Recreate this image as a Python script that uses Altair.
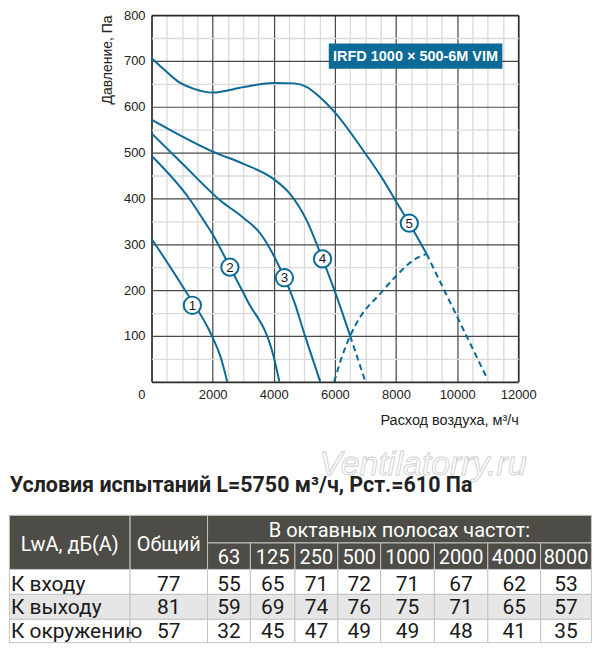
import altair as alt
import pandas as pd

# ---------------- fan curves (x: m3/h, y: Pa) ----------------
c1_x = [0, 1066, 1990, 2261, 2478]
c1_y = [312, 203, 98, 54, 0]
c2_x = [0, 1284, 1718, 1990, 2566, 3130, 4000, 4185]
c2_y = [493, 395, 351, 323, 250, 178, 54, 0]
c3_x = [0, 1022, 2261, 3022, 3566, 4055, 4348, 4651, 5033, 5522]
c3_y = [542, 475, 395, 357, 323, 268, 227, 178, 98, 0]
c4_x = [0, 2044, 3022, 4000, 4544, 5086, 5467, 5597, 5978, 6500]
c4_y = [572, 501, 475, 442, 409, 351, 290, 268, 201, 100]
c5_x = [0, 414, 848, 1392, 2000, 3022, 4000, 4650, 5086, 5522, 5956, 6934, 7586, 7988, 8435, 9000]
c5_y = [706, 681, 656, 639, 631, 643, 652, 651, 643, 620, 591, 504, 440, 395, 346, 279]

# dashed parts
d4_x = [6500, 7000]
d4_y = [100, 0]
d5_x = [9000, 11000]
d5_y = [279, 5]
sys_x = [5978, 6227, 6500, 6826, 7478, 8020, 8564, 9000]
sys_y = [0, 54, 100, 141, 192, 232, 265, 279]

# curve number labels
lab_t = ["1", "2", "3", "4", "5"]
lab_x = [1337, 2566, 4348, 5597, 8435]
lab_y = [167, 250, 227, 268, 346]

model = "IRFD 1000 × 500-6M VIM"
box_x = [5800, 11480]
box_y = [683, 738]

# ---------------- noise table ----------------
test_title = "Условия испытаний L=5750 м³/ч, Рст.=610 Па"
hdr_lwa = "LwA, дБ(A)"
hdr_total = "Общий"
hdr_bands = "В октавных полосах частот:"
bands = ["63", "125", "250", "500", "1000", "2000", "4000", "8000"]
row_names = ["К входу", "К выходу", "К окружению"]
totals = [77, 81, 57]
inlet = [55, 65, 71, 72, 71, 67, 62, 53]
outlet = [59, 69, 74, 76, 75, 71, 65, 57]
surround = [32, 45, 47, 49, 49, 48, 41, 35]

# ---------------- styling / layout ----------------
COL = "#0b6a96"
FONT = "Liberation Sans"
NARROW = "Roboto"
W, H = 368, 368
XMAX, YMAX = 12000, 800
X_STEP, X_MAJOR = 500, 2000
Y_STEP, Y_MAJOR = 50, 100

X = alt.Scale(domain=[0, XMAX], nice=False, zero=False)
Y = alt.Scale(domain=[0, YMAX], nice=False, zero=False)

x_grid_vals = list(range(0, XMAX + 1, X_STEP))
y_grid_vals = list(range(0, YMAX + 1, Y_STEP))

EDGE, MAJ, MIN = "#2a2a2a", "#4a4a4a", "#dadada"

x_axis = alt.Axis(
    values=x_grid_vals, format="d", ticks=False, domain=False,
    grid=True,
    gridColor={"condition": [
        {"test": f"datum.value === 0 || datum.value === {XMAX}", "value": EDGE},
        {"test": f"datum.value % {X_MAJOR} === 0", "value": MAJ}], "value": MIN},
    gridWidth={"condition": [
        {"test": f"datum.value === 0 || datum.value === {XMAX}", "value": 1.7},
        {"test": f"datum.value % {X_MAJOR} === 0", "value": 1.25}], "value": 1.3},
    labelExpr=f"datum.value % {X_MAJOR} === 0 ? datum.label : ''",
    labelFont=FONT, labelFontSize=13, labelColor="#222", labelPadding=7,
    labelFlush=False, labelOverlap=False,
    labelAlign={"condition": {"test": "datum.value === 0", "value": "right"}, "value": "center"},
    labelOffset={"condition": {"test": "datum.value === 0", "value": -6.5}, "value": 0},
    title="Расход воздуха, м³/ч", titleFont=FONT, titleFontSize=14.5,
    titleFontWeight="normal", titleColor="#222", titleAlign="right",
    titleX=W, titleY=43, titleBaseline="alphabetic")
y_axis = alt.Axis(
    values=y_grid_vals, format="d", ticks=False, domain=False,
    grid=True,
    gridColor={"condition": [
        {"test": f"datum.value === 0 || datum.value === {YMAX}", "value": EDGE},
        {"test": f"datum.value % {Y_MAJOR} === 0", "value": MAJ}], "value": MIN},
    gridWidth={"condition": [
        {"test": f"datum.value === 0 || datum.value === {YMAX}", "value": 1.7},
        {"test": f"datum.value % {Y_MAJOR} === 0", "value": 1.25}], "value": 1.3},
    labelExpr=f"datum.value % {Y_MAJOR} === 0 && datum.value > 0 ? datum.label : ''",
    labelFont=FONT, labelFontSize=13, labelColor="#222", labelPadding=6.5,
    labelFlush=False, labelOverlap=False,
    title="Давление, Па", titleFont=FONT, titleFontSize=14,
    titleFontWeight="normal", titleColor="#222", titleAlign="right",
    titleX=-44, titleY=0, titleBaseline="middle")


def xq(f):
    return alt.X(f, type="quantitative", scale=X, axis=x_axis)


def yq(f):
    return alt.Y(f, type="quantitative", scale=Y, axis=y_axis)


def curves_df(parts):
    rows = []
    for name, xs, ys in parts:
        for a, b in zip(xs, ys):
            rows.append({"x": a, "y": b, "c": name})
    return pd.DataFrame(rows)


solid = curves_df([("1", c1_x, c1_y), ("2", c2_x, c2_y), ("3", c3_x, c3_y),
                   ("4", c4_x, c4_y), ("5", c5_x, c5_y)])
dashed = curves_df([("d4", d4_x, d4_y), ("d5", d5_x, d5_y), ("sys", sys_x, sys_y)])

lines = alt.Chart(solid).mark_line(color=COL, strokeWidth=2, interpolate="monotone").encode(
    x=xq("x"), y=yq("y"), detail="c:N")
dlines = alt.Chart(dashed).mark_line(color=COL, strokeWidth=2, strokeDash=[6, 4],
                                     interpolate="monotone").encode(
    x=xq("x"), y=yq("y"), detail="c:N")

labs = pd.DataFrame({"t": lab_t, "x": lab_x, "y": lab_y})
circ = alt.Chart(labs).mark_point(shape="circle", filled=True, fill="white", stroke=COL,
                                  strokeWidth=2, size=300, opacity=1).encode(
    x=xq("x"), y=yq("y"))
ctext = alt.Chart(labs).mark_text(font=FONT, fontSize=13.5, color="#1a1a1a", baseline="middle",
                                  dy=0.5).encode(x=xq("x"), y=yq("y"), text="t:N")

box_df = pd.DataFrame({"x": [box_x[0]], "x1": [box_x[1]], "y": [box_y[0]], "y1": [box_y[1]],
                       "t": [model]})
box = alt.Chart(box_df).mark_rect(color=COL, opacity=1).encode(
    x=xq("x"), x2="x1:Q", y=yq("y"), y2="y1:Q")
box_text = alt.Chart(box_df).transform_calculate(
    x="(datum.x + datum.x1) / 2", y="(datum.y + datum.y1) / 2").mark_text(
    font=FONT, fontSize=14.5, fontWeight="bold", color="white", baseline="middle", dy=0.5).encode(
    x=xq("x"), y=yq("y"), text="t:N")

watermark = alt.Chart(pd.DataFrame({"t": ["Ventilatorry.ru"]})).mark_text(
    font=FONT, fontSize=34, fontStyle="italic", fill="white", stroke="#cfcfcf",
    strokeWidth=0.9, align="left", baseline="alphabetic").encode(
    x=alt.value(168.5), y=alt.value(461.7), text="t:N")
title_txt = alt.Chart(pd.DataFrame({"t": [test_title]})).mark_text(
    font=NARROW, fontSize=21.5, fontWeight="bold", color="#222", align="left",
    baseline="alphabetic").encode(x=alt.value(-142.3), y=alt.value(479), text="t:N")

fan = alt.layer(lines, dlines, circ, ctext, box, box_text,
                watermark, title_txt).properties(width=W, height=H)

# ---------------- table panel ----------------
col_edges = [0, 122, 200.3, 243.6, 288.6, 332, 375.3, 429.6, 483.6, 537, 588.3]
row_edges = [0, 27.7, 54.3, 79.3, 104.3, 127.7]
baselines = {"h1": 21.7, "hm": 36, "h2": 49.3, "r": [76, 99.3, 122.7]}
HDR = "#4d4c47"
ROWFILL = ["#ffffff", "#e6e6e6", "#ffffff"]
TABLE_LEFT = -142.6      # table starts left of the pressure plot's origin
TABLE_W = 584
TH = 128

cells, texts_c, texts_l = [], [], []
cells.append(dict(x0=col_edges[0], x1=col_edges[1], y0=row_edges[0], y1=row_edges[2], f=HDR))
cells.append(dict(x0=col_edges[1], x1=col_edges[2], y0=row_edges[0], y1=row_edges[2], f=HDR))
cells.append(dict(x0=col_edges[2], x1=col_edges[10], y0=row_edges[0], y1=row_edges[1], f=HDR))
texts_c.append(dict(x=(col_edges[0] + col_edges[1]) / 2, y=baselines["hm"], t=hdr_lwa, c="white", s=20))
texts_c.append(dict(x=(col_edges[1] + col_edges[2]) / 2, y=baselines["hm"], t=hdr_total, c="white", s=20))
texts_c.append(dict(x=(col_edges[2] + col_edges[10]) / 2, y=baselines["h1"], t=hdr_bands, c="white", s=20))
for i, b in enumerate(bands):
    cells.append(dict(x0=col_edges[2 + i], x1=col_edges[3 + i], y0=row_edges[1], y1=row_edges[2], f=HDR))
    texts_c.append(dict(x=(col_edges[2 + i] + col_edges[3 + i]) / 2, y=baselines["h2"], t=b,
                        c="white", s=20))
for j, (name, tot, vals) in enumerate(zip(row_names, totals, [inlet, outlet, surround])):
    y0, y1 = row_edges[2 + j], row_edges[3 + j]
    for k in range(10):
        cells.append(dict(x0=col_edges[k], x1=col_edges[k + 1], y0=y0, y1=y1, f=ROWFILL[j]))
    texts_l.append(dict(x=col_edges[0] + 1.5, y=baselines["r"][j], t=name, c="#1a1a1a", s=21))
    for k, v in enumerate([tot] + vals):
        texts_c.append(dict(x=(col_edges[1 + k] + col_edges[2 + k]) / 2, y=baselines["r"][j],
                            t=str(v), c="#1a1a1a", s=21))

TX = alt.Scale(domain=[0, col_edges[-1]], range=[TABLE_LEFT, TABLE_LEFT + TABLE_W],
               nice=False, zero=False)
TY = alt.Scale(domain=[0, TH], range=[0, TH], nice=False, zero=False)

trect = alt.Chart(pd.DataFrame(cells)).mark_rect(stroke="#c4c4c4", strokeWidth=1).encode(
    x=alt.X("x0:Q", scale=TX, axis=None), x2="x1:Q",
    y=alt.Y("y0:Q", scale=TY, axis=None), y2="y1:Q",
    fill=alt.Fill("f:N", scale=None))
tc = alt.Chart(pd.DataFrame(texts_c)).mark_text(font=NARROW, align="center",
                                                baseline="alphabetic").encode(
    x=alt.X("x:Q", scale=TX, axis=None), y=alt.Y("y:Q", scale=TY, axis=None),
    text="t:N", color=alt.Color("c:N", scale=None), size=alt.Size("s:Q", scale=None))
tl = alt.Chart(pd.DataFrame(texts_l)).mark_text(font=NARROW, align="left",
                                                baseline="alphabetic").encode(
    x=alt.X("x:Q", scale=TX, axis=None), y=alt.Y("y:Q", scale=TY, axis=None),
    text="t:N", color=alt.Color("c:N", scale=None), size=alt.Size("s:Q", scale=None))

table = alt.layer(trect, tc, tl).properties(width=W, height=TH)

chart = alt.vconcat(fan, table, spacing=17).properties(
    padding=0, background="white").configure_view(strokeWidth=0)

chart.save("out.html", embed_options={"renderer": "svg", "actions": False})
